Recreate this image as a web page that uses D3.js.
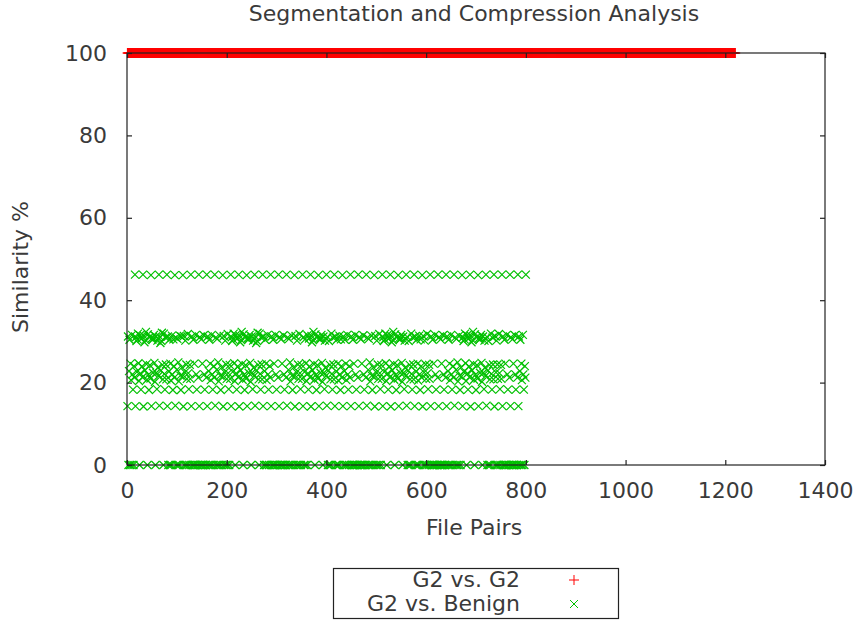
<!DOCTYPE html>
<html>
<head>
<meta charset="utf-8">
<script src="https://cdn.jsdelivr.net/npm/d3@7"></script>
<style>
  body { margin: 0; background: #fff; }
  text { font-family: "DejaVu Sans", sans-serif; fill: #3a3a3a; }
</style>
</head>
<body>
<svg id="chart" width="853" height="620"></svg>
<script>
// ---- data ----
const chartTitle = "Segmentation and Compression Analysis";
const xLabel = "File Pairs";
const yLabel = "Similarity %";
const seriesNames = ["G2 vs. G2", "G2 vs. Benign"];
const seriesColors = ["#ff0000", "#00c000"];

// G2 vs. G2: runs of [similarity, number of consecutive file pairs]
const g2Runs = [[100, 1220]];

// G2 vs. Benign: one row of 16 benign comparisons per G2 sample (50 samples)
const benignRows = [
  [14.3, 31.2, 0, 22.8, 30.4, 0, 24.6, 20.6, 0, 31.6, 22.0, 18.3, 0, 24.0, 21.2, 46.2],
  [14.3, 31.0, 30.1, 22.6, 30.5, 31.9, 24.7, 20.4, 0, 31.5, 22.2, 18.3, 30.7, 23.9, 21.3, 46.2],
  [14.2, 31.3, 29.8, 23.0, 30.3, 32.3, 24.5, 20.7, 0, 31.7, 21.9, 18.2, 31.0, 24.2, 21.0, 46.1],
  [14.3, 30.8, 30.4, 22.4, 30.7, 31.6, 24.8, 20.2, 0, 31.2, 22.4, 18.4, 30.2, 23.6, 21.6, 46.2],
  [14.4, 31.1, 29.6, 22.9, 30.1, 32.1, 24.3, 20.8, 0, 31.9, 22.1, 18.3, 30.9, 24.4, 20.8, 46.2],
  [14.3, 31.2, 0, 22.7, 30.4, 0, 24.6, 20.5, 0, 31.4, 22.0, 18.2, 30.5, 24.0, 21.2, 46.1],
  [14.4, 30.9, 0, 23.1, 30.6, 0, 24.9, 20.3, 0, 31.4, 21.7, 18.2, 31.2, 23.7, 21.5, 46.1],
  [14.2, 31.3, 0, 22.5, 30.2, 0, 24.4, 20.9, 0, 31.8, 22.3, 18.4, 0, 24.3, 20.9, 46.2],
  [14.3, 31.2, 0, 0, 30.4, 0, 24.6, 0, 0, 31.6, 22.0, 18.3, 0, 0, 21.2, 46.2],
  [14.3, 31.0, 0, 0, 30.5, 0, 24.6, 0, 0, 31.5, 22.0, 18.3, 0, 0, 21.2, 46.2],
  [14.3, 31.2, 0, 22.8, 30.4, 0, 24.6, 20.6, 0, 31.6, 22.0, 18.3, 0, 24.0, 21.2, 46.2],
  [14.4, 30.9, 0, 23.1, 30.6, 0, 24.9, 20.3, 0, 31.4, 21.7, 18.2, 0, 23.7, 21.5, 46.1],
  [14.2, 31.3, 0, 22.5, 30.2, 0, 24.4, 20.9, 0, 31.8, 22.3, 18.4, 0, 24.3, 20.9, 46.2],
  [14.3, 31.0, 30.1, 22.6, 30.5, 31.9, 24.7, 20.4, 0, 31.5, 22.2, 18.3, 30.7, 23.9, 21.3, 46.2],
  [14.2, 31.3, 29.8, 23.0, 30.3, 32.3, 24.5, 20.7, 0, 31.7, 21.9, 18.2, 31.0, 24.2, 21.0, 46.1],
  [14.3, 30.8, 30.4, 22.4, 30.7, 31.6, 24.8, 20.2, 0, 31.2, 22.4, 18.4, 30.2, 23.6, 21.6, 46.2],
  [14.4, 31.1, 29.6, 22.9, 30.1, 32.1, 24.3, 20.8, 0, 31.9, 22.1, 18.3, 30.9, 24.4, 20.8, 46.2],
  [14.3, 31.2, 0, 22.8, 30.4, 0, 24.6, 20.6, 0, 31.6, 22.0, 18.3, 0, 24.0, 21.2, 46.2],
  [14.3, 31.2, 0, 0, 30.4, 0, 24.6, 0, 0, 31.6, 22.0, 18.3, 0, 0, 21.2, 46.2],
  [14.3, 31.0, 0, 0, 30.5, 0, 24.6, 0, 0, 31.5, 22.0, 18.3, 0, 0, 21.2, 46.2],
  [14.4, 30.9, 0, 23.1, 30.6, 0, 24.9, 20.3, 0, 31.4, 21.7, 18.2, 0, 23.7, 21.5, 46.1],
  [14.2, 31.3, 0, 22.5, 30.2, 0, 24.4, 20.9, 0, 31.8, 22.3, 18.4, 0, 24.3, 20.9, 46.2],
  [14.3, 31.0, 0, 22.6, 30.5, 0, 24.7, 20.4, 0, 31.5, 22.2, 18.3, 30.7, 23.9, 21.3, 46.2],
  [14.2, 31.3, 29.8, 23.0, 30.3, 32.3, 24.5, 20.7, 0, 31.7, 21.9, 18.2, 31.0, 24.2, 21.0, 46.1],
  [14.3, 30.8, 30.4, 22.4, 30.7, 31.6, 24.8, 20.2, 0, 31.2, 22.4, 18.4, 30.2, 23.6, 21.6, 46.2],
  [14.4, 31.1, 0, 22.9, 30.1, 0, 24.3, 20.8, 0, 31.9, 22.1, 18.3, 30.9, 24.4, 20.8, 46.2],
  [14.3, 31.2, 0, 22.7, 30.4, 0, 24.6, 20.5, 0, 31.4, 22.0, 18.2, 30.5, 24.0, 21.2, 46.1],
  [14.3, 31.2, 0, 22.8, 30.4, 0, 24.6, 20.6, 0, 31.6, 22.0, 18.3, 0, 24.0, 21.2, 46.2],
  [14.3, 31.2, 0, 0, 30.4, 0, 24.6, 0, 0, 31.6, 22.0, 18.3, 0, 0, 21.2, 46.2],
  [14.3, 31.0, 0, 0, 30.5, 0, 24.6, 0, 0, 31.5, 22.0, 18.3, 0, 0, 21.2, 46.2],
  [14.4, 30.9, 0, 23.1, 30.6, 0, 24.9, 20.3, 0, 31.4, 21.7, 18.2, 0, 23.7, 21.5, 46.1],
  [14.2, 31.3, 0, 22.5, 30.2, 0, 24.4, 20.9, 0, 31.8, 22.3, 18.4, 0, 24.3, 20.9, 46.2],
  [14.3, 31.0, 30.1, 22.6, 30.5, 31.9, 24.7, 20.4, 0, 31.5, 22.2, 18.3, 30.7, 23.9, 21.3, 46.2],
  [14.2, 31.3, 29.8, 23.0, 30.3, 32.3, 24.5, 20.7, 0, 31.7, 21.9, 18.2, 31.0, 24.2, 21.0, 46.1],
  [14.3, 30.8, 30.4, 22.4, 30.7, 31.6, 24.8, 20.2, 0, 31.2, 22.4, 18.4, 30.2, 23.6, 21.6, 46.2],
  [14.4, 31.1, 0, 22.9, 30.1, 0, 24.3, 20.8, 0, 31.9, 22.1, 18.3, 30.9, 24.4, 20.8, 46.2],
  [14.3, 31.2, 0, 22.7, 30.4, 0, 24.6, 20.5, 0, 31.4, 22.0, 18.2, 30.5, 24.0, 21.2, 46.1],
  [14.2, 31.3, 0, 22.5, 30.2, 0, 24.4, 20.9, 0, 31.8, 22.3, 18.4, 0, 24.3, 20.9, 46.2],
  [14.3, 31.2, 0, 0, 30.4, 0, 24.6, 0, 0, 31.6, 22.0, 18.3, 0, 0, 21.2, 46.2],
  [14.3, 31.0, 0, 0, 30.5, 0, 24.6, 0, 0, 31.5, 22.0, 18.3, 0, 0, 21.2, 46.2],
  [14.3, 31.2, 0, 22.8, 30.4, 0, 24.6, 20.6, 0, 31.6, 22.0, 18.3, 0, 24.0, 21.2, 46.2],
  [14.4, 30.9, 0, 23.1, 30.6, 0, 24.9, 20.3, 0, 31.4, 21.7, 18.2, 0, 23.7, 21.5, 46.1],
  [14.3, 31.0, 30.1, 22.6, 30.5, 31.9, 24.7, 20.4, 0, 31.5, 22.2, 18.3, 30.7, 23.9, 21.3, 46.2],
  [14.2, 31.3, 29.8, 23.0, 30.3, 32.3, 24.5, 20.7, 0, 31.7, 21.9, 18.2, 31.0, 24.2, 21.0, 46.1],
  [14.3, 30.8, 30.4, 22.4, 30.7, 31.6, 24.8, 20.2, 0, 31.2, 22.4, 18.4, 30.2, 23.6, 21.6, 46.2],
  [14.4, 31.1, 0, 22.9, 30.1, 0, 24.3, 20.8, 0, 31.9, 22.1, 18.3, 30.9, 24.4, 20.8, 46.2],
  [14.2, 31.3, 0, 22.5, 30.2, 0, 24.4, 20.9, 0, 31.8, 22.3, 18.4, 0, 24.3, 20.9, 46.2],
  [14.3, 31.2, 0, 0, 30.4, 0, 24.6, 0, 0, 31.6, 22.0, 18.3, 0, 0, 21.2, 46.2],
  [14.3, 31.0, 0, 0, 30.5, 0, 24.6, 0, 0, 31.5, 22.0, 18.3, 0, 0, 21.2, 46.2],
  [14.3, 31.2, 0, 22.8, 30.4, 0, 24.6, 20.6, 0, 31.6, 22.0, 18.3, 0, 24.0, 21.2, 46.2]
];

const xTicks = [0, 200, 400, 600, 800, 1000, 1200, 1400];
const yTicks = [0, 20, 40, 60, 80, 100];

// ---- points: x is the running file-pair number ----
const g2Points = g2Runs
  .flatMap(([v, n]) => Array.from({ length: n }, () => v))
  .map((v, i) => ({ x: i + 1, y: v }));
const benignPoints = benignRows.flat().map((v, i) => ({ x: i + 1, y: v }));

// ---- layout ----
const plot = { left: 127, right: 825, top: 53, bottom: 465 };
const svg = d3.select("#chart");

const x = d3.scaleLinear().domain([0, 1400]).range([plot.left, plot.right]);
const y = d3.scaleLinear().domain([0, 100]).range([plot.bottom, plot.top]);

const plusPath = "M-5,0L5,0M0,-5L0,5";
const crossPath = "M-4,-4L4,4M-4,4L4,-4";
const markStroke = 1.2;

// ---- points ----
svg.append("g")
  .selectAll("path")
  .data(g2Points)
  .join("path")
  .attr("d", plusPath)
  .attr("transform", d => `translate(${x(d.x)},${y(d.y)})`)
  .attr("fill", "none")
  .attr("stroke", seriesColors[0])
  .attr("stroke-width", markStroke);

svg.append("g")
  .selectAll("path")
  .data(benignPoints)
  .join("path")
  .attr("d", crossPath)
  .attr("transform", d => `translate(${x(d.x)},${y(d.y)})`)
  .attr("fill", "none")
  .attr("stroke", seriesColors[1])
  .attr("stroke-width", markStroke);

// ---- axes (inward ticks, mirrored on top and right) ----
const tickLen = 5;
const fontSize = 22;

const xAxis = svg.append("g")
  .attr("transform", `translate(0,${plot.bottom})`)
  .call(d3.axisBottom(x).tickValues(xTicks).tickFormat(d3.format("d"))
    .tickSize(-tickLen).tickSizeOuter(0).tickPadding(17));
const yAxis = svg.append("g")
  .attr("transform", `translate(${plot.left},0)`)
  .call(d3.axisLeft(y).tickValues(yTicks).tickFormat(d3.format("d"))
    .tickSize(-tickLen).tickSizeOuter(0).tickPadding(20));
const xTop = svg.append("g")
  .attr("transform", `translate(0,${plot.top})`)
  .call(d3.axisTop(x).tickValues(xTicks).tickFormat("")
    .tickSize(-tickLen).tickSizeOuter(0));
const yRight = svg.append("g")
  .attr("transform", `translate(${plot.right},0)`)
  .call(d3.axisRight(y).tickValues(yTicks).tickFormat("")
    .tickSize(-tickLen).tickSizeOuter(0));

[xAxis, yAxis, xTop, yRight].forEach(g => {
  g.select(".domain").remove();
  g.selectAll(".tick line").attr("stroke", "#222").attr("stroke-width", 1.2);
  g.selectAll("text")
    .attr("font-family", "DejaVu Sans, sans-serif")
    .attr("font-size", fontSize)
    .attr("fill", "#3a3a3a");
});

// plot border
svg.append("rect")
  .attr("x", plot.left)
  .attr("y", plot.top)
  .attr("width", plot.right - plot.left)
  .attr("height", plot.bottom - plot.top)
  .attr("fill", "none")
  .attr("stroke", "#222")
  .attr("stroke-width", 1.2);

// ---- titles ----
svg.append("text")
  .attr("x", 474).attr("y", 21)
  .attr("text-anchor", "middle")
  .attr("font-size", fontSize)
  .text(chartTitle);

svg.append("text")
  .attr("x", 474).attr("y", 535)
  .attr("text-anchor", "middle")
  .attr("font-size", fontSize)
  .text(xLabel);

svg.append("text")
  .attr("transform", "translate(28,267) rotate(-90)")
  .attr("text-anchor", "middle")
  .attr("font-size", fontSize)
  .text(yLabel);

// ---- legend ----
const legend = svg.append("g");
legend.append("rect")
  .attr("x", 333.5).attr("y", 568.5)
  .attr("width", 285).attr("height", 50)
  .attr("fill", "#fff")
  .attr("stroke", "#222")
  .attr("stroke-width", 1.2);

const legendRows = [
  { name: seriesNames[0], color: seriesColors[0], path: plusPath, cy: 580 },
  { name: seriesNames[1], color: seriesColors[1], path: crossPath, cy: 604 }
];
legendRows.forEach(r => {
  legend.append("text")
    .attr("x", 520).attr("y", r.cy + 7)
    .attr("text-anchor", "end")
    .attr("font-size", fontSize)
    .text(r.name);
  legend.append("path")
    .attr("d", r.path)
    .attr("transform", `translate(574,${r.cy})`)
    .attr("fill", "none")
    .attr("stroke", r.color)
    .attr("stroke-width", 1);
});
</script>
</body>
</html>
